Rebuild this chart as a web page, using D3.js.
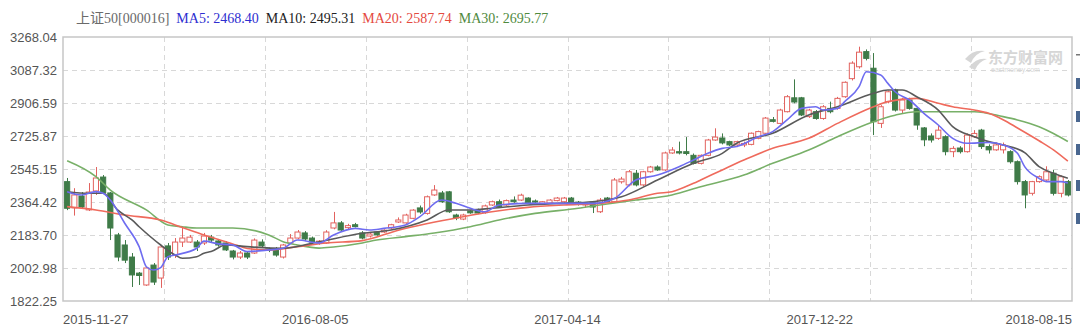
<!DOCTYPE html>
<html>
<head>
<meta charset="utf-8">
<script src="https://cdn.jsdelivr.net/npm/d3@7"></script>
<style>
  body { margin: 0; background: #fff; }
  svg { display: block; }
</style>
</head>
<body>
<div id="kline-chart"></div>
<script>
// weekly candles (index 0 = 2015-11-27)
var opens = [2476,2332,2397,2321,2425,2501,2414,2184,2129,2063,1975,1910,2019,1948,2124,2074,2145,2145,2145,2140,
  2172,2151,2140,2096,2063,2085,2085,2145,2107,2107,2063,2140,2167,2195,2167,2140,2140,2222,2250,2224,
  2240,2195,2178,2200,2200,2222,2255,2250,2275,2332,2302,2403,2414,2420,2293,2271,2315,2320,2306,2348,
  2366,2348,2375,2375,2386,2370,2354,2359,2372,2366,2386,2364,2348,2364,2311,2386,2366,2475,2458,2522,
  2458,2530,2556,2540,2633,2640,2640,2620,2576,2620,2704,2715,2695,2677,2677,2680,2713,2741,2815,2795,
  2859,2935,2935,2832,2859,2822,2877,2877,2941,3040,3105,3188,3097,2795,2914,2978,2868,2923,2877,2770,
  2726,2713,2722,2640,2660,2640,2722,2758,2668,2650,2650,2640,2585,2476,2412,2476,2485,2522,2412,2476];
var highs = [2496,2440,2419,2468,2556,2512,2419,2195,2156,2085,1981,2008,2030,2129,2140,2167,2222,2184,2156,2195,
  2184,2162,2150,2102,2096,2090,2165,2160,2115,2118,2135,2189,2211,2205,2175,2156,2210,2310,2260,2245,
  2250,2205,2195,2205,2215,2245,2280,2300,2325,2345,2400,2457,2425,2425,2300,2300,2320,2328,2350,2372,
  2378,2378,2395,2410,2390,2378,2370,2380,2392,2392,2392,2370,2362,2370,2386,2392,2496,2502,2540,2540,
  2535,2562,2565,2640,2665,2695,2720,2630,2625,2710,2768,2740,2700,2700,2695,2745,2755,2830,2830,2875,
  2950,3036,2940,2875,2868,2895,2914,2940,3025,3135,3215,3200,3180,2895,2975,2985,2935,2935,2880,2775,
  2740,2785,2730,2670,2670,2740,2758,2765,2680,2690,2690,2648,2592,2485,2480,2510,2560,2540,2510,2485];
var lows = [2320,2290,2331,2315,2403,2408,2156,2040,2030,1899,1910,1905,1910,1894,2047,2058,2118,2140,2096,2129,
  2140,2120,2096,2050,2052,2052,2080,2115,2090,2065,2055,2135,2160,2150,2135,2130,2135,2215,2205,2215,
  2225,2160,2170,2180,2195,2215,2250,2245,2270,2300,2295,2398,2360,2305,2265,2265,2300,2298,2300,2343,
  2332,2343,2360,2370,2355,2358,2350,2355,2368,2360,2355,2345,2335,2304,2304,2360,2360,2465,2450,2450,
  2450,2525,2535,2535,2628,2625,2620,2570,2570,2615,2700,2680,2670,2665,2665,2675,2708,2735,2800,2790,
  2855,2905,2835,2825,2815,2815,2850,2870,2935,3030,3095,3140,2731,2770,2905,2860,2852,2870,2760,2670,
  2690,2705,2620,2610,2630,2635,2715,2655,2630,2645,2630,2575,2460,2330,2400,2470,2480,2400,2390,2395];
var closes = [2330,2403,2337,2419,2496,2414,2222,2063,2046,1965,1962,2003,1926,2118,2063,2145,2167,2172,2118,2178,
  2156,2129,2102,2063,2085,2063,2156,2124,2102,2074,2129,2167,2200,2162,2145,2150,2200,2250,2211,2235,
  2230,2167,2189,2184,2210,2240,2266,2293,2320,2310,2393,2430,2366,2311,2277,2293,2305,2304,2343,2366,
  2338,2372,2366,2402,2360,2364,2366,2375,2386,2386,2360,2355,2355,2337,2375,2366,2485,2490,2530,2458,
  2530,2556,2540,2633,2649,2633,2630,2576,2620,2704,2720,2688,2677,2695,2685,2741,2750,2824,2806,2868,
  2941,2912,2841,2868,2822,2886,2859,2932,3020,3125,3185,3151,2804,2886,2968,2868,2923,2877,2786,2705,
  2704,2758,2640,2658,2640,2731,2740,2668,2650,2677,2677,2585,2476,2403,2476,2503,2530,2412,2503,2403];

// moving averages as [candle index, value]
var ma5 = [[0,2421],[2,2403],[4,2421],[5,2412],[6,2375],[8,2248],[10,2120],[11,2010],[12,1992],[13,2005],
  [14,2065],[15,2074],[18,2111],[19,2150],[21,2135],[23,2129],[25,2093],[28,2102],[30,2111],[32,2156],
  [35,2140],[37,2184],[40,2220],[42,2211],[44,2220],[47,2239],[49,2284],[52,2375],[54,2357],[56,2330],
  [58,2311],[60,2348],[64,2357],[68,2357],[73,2357],[76,2384],[79,2485],[82,2512],[85,2558],[87,2594],
  [89,2631],[91,2658],[93,2668],[96,2722],[98,2750],[100,2814],[102,2877],[104,2886],[105,2868],[107,2877],
  [108,2914],[110,2996],[111,3078],[113,3060],[114,3014],[115,2968],[117,2923],[119,2850],[121,2786],[123,2713],
  [125,2686],[128,2690],[130,2677],[132,2631],[133,2558],[135,2494],[136,2476],[138,2476],[139,2468]];
var ma10 = [[0,2421],[3,2412],[5,2412],[7,2321],[9,2266],[10,2229],[13,2129],[15,2074],[16,2056],[18,2065],
  [19,2084],[20,2093],[22,2129],[25,2120],[30,2111],[35,2147],[41,2193],[45,2211],[50,2266],[53,2321],
  [56,2321],[59,2330],[64,2348],[68,2357],[73,2366],[77,2393],[82,2485],[87,2576],[91,2631],[93,2686],
  [98,2741],[103,2841],[107,2886],[112,2960],[114,2978],[116,2978],[118,2941],[121,2868],[123,2777],[126,2722],
  [128,2695],[130,2677],[133,2635],[135,2558],[137,2522],[139,2495]];
var ma20 = [[0,2339],[4,2321],[8,2293],[13,2266],[15,2239],[17,2211],[19,2184],[23,2135],[25,2110],[28,2102],
  [32,2120],[36,2140],[41,2153],[46,2210],[55,2284],[59,2311],[64,2335],[69,2348],[74,2357],[78,2375],
  [82,2412],[84,2421],[87,2467],[88,2485],[91,2540],[94,2594],[98,2659],[103,2713],[107,2795],[112,2886],
  [114,2914],[118,2932],[121,2905],[123,2886],[126,2868],[128,2850],[130,2815],[132,2770],[135,2700],[137,2650],
  [139,2588]];
var ma30 = [[0,2590],[4,2503],[6,2430],[11,2321],[14,2239],[16,2229],[18,2222],[23,2222],[28,2184],[30,2147],
  [32,2129],[35,2112],[37,2118],[41,2140],[43,2156],[47,2175],[51,2195],[56,2229],[60,2266],[65,2302],
  [71,2330],[74,2348],[79,2375],[84,2403],[88,2448],[94,2512],[98,2576],[103,2649],[107,2722],[112,2804],
  [115,2840],[118,2859],[123,2859],[126,2859],[130,2832],[132,2814],[135,2777],[137,2740],[139,2696]];

var maNames = ["MA5", "MA10", "MA20", "MA30"];
var maLast = [2468.40, 2495.31, 2587.74, 2695.77];
var yTicks = [1822.25, 2002.98, 2183.70, 2364.42, 2545.15, 2725.87, 2906.59, 3087.32, 3268.04];
var xTickLabels = ["2015-11-27", "2016-08-05", "2017-04-14", "2017-12-22", "2018-08-15"];
var titleText = "上证50[000016]";

var W = 1080, H = 329;
var margin = {top: 37, right: 8, bottom: 28, left: 63};
var plotW = W - margin.left - margin.right;
var plotH = H - margin.top - margin.bottom;

var maLineColors = ["#6e6cf0", "#5a5a5a", "#ef6a5c", "#78b068"];
var maTextColors = ["#2e2ed0", "#222222", "#e4493e", "#4f8a3e"];
var upColor = "#e2625e", downColor = "#3f7b48";

var svg = d3.select("#kline-chart").append("svg")
  .attr("width", W).attr("height", H);

var g = svg.append("g").attr("transform", "translate(" + margin.left + "," + margin.top + ")");

var x = d3.scaleBand().domain(d3.range(closes.length)).range([0, plotW]).padding(0.15);
var xc = function(i){ return x(i) + x.bandwidth() / 2; };
var y = d3.scaleLinear().domain([yTicks[0], yTicks[yTicks.length - 1]]).range([plotH, 0]);

// grid
g.append("g").selectAll("line").data(yTicks.slice(1, -1)).enter().append("line")
  .attr("x1", 0).attr("x2", plotW)
  .attr("y1", function(d){ return Math.round(y(d)) + 0.5; })
  .attr("y2", function(d){ return Math.round(y(d)) + 0.5; })
  .attr("stroke", "#d8d8d8").attr("stroke-dasharray", "5,4");
var vCols = d3.range(1, 10);
g.append("g").selectAll("line").data(vCols).enter().append("line")
  .attr("x1", function(d){ return Math.round(d * plotW / 10) + 0.5; })
  .attr("x2", function(d){ return Math.round(d * plotW / 10) + 0.5; })
  .attr("y1", 0).attr("y2", plotH)
  .attr("stroke", "#d8d8d8").attr("stroke-dasharray", "5,4");

// watermark
var wm = g.append("g").attr("fill", "#d6d6d6");
wm.append("text").attr("x", 925).attr("y", 26)
  .style("font-family", "'Noto Sans CJK SC', sans-serif").style("font-size", "15px")
  .style("font-weight", "bold").text("东方财富网");
wm.append("text").attr("x", 928).attr("y", 35)
  .style("font-family", "'Liberation Sans', sans-serif").style("font-size", "7px")
  .text("eastmoney.com");
wm.append("path").attr("d", "M902,22 q8,-10 20,-8 q-10,2 -14,12 z M906,30 q8,-10 18,-8 q-9,3 -12,11 z");

// candles
var candles = g.append("g").selectAll("g").data(closes).enter().append("g");
candles.append("line")
  .attr("x1", function(d, i){ return Math.round(xc(i)) + 0.5; })
  .attr("x2", function(d, i){ return Math.round(xc(i)) + 0.5; })
  .attr("y1", function(d, i){ return y(highs[i]); })
  .attr("y2", function(d, i){ return y(lows[i]); })
  .attr("stroke", function(d, i){ return d >= opens[i] ? upColor : downColor; })
  .attr("stroke-width", 1);
candles.append("rect")
  .attr("x", function(d, i){ return x(i) + 0.5; })
  .attr("width", x.bandwidth() - 1)
  .attr("y", function(d, i){ return y(Math.max(d, opens[i])); })
  .attr("height", function(d, i){ return Math.max(1, Math.abs(y(d) - y(opens[i]))); })
  .attr("fill", function(d, i){ return d >= opens[i] ? "#fff" : downColor; })
  .attr("stroke", function(d, i){ return d >= opens[i] ? upColor : downColor; })
  .attr("stroke-width", 1);

// moving average lines
var line = d3.line()
  .x(function(d){ return xc(d[0]); })
  .y(function(d){ return y(d[1]); })
  .curve(d3.curveMonotoneX);
[ma30, ma20, ma10, ma5].forEach(function(s, k){
  g.append("path").datum(s)
    .attr("d", line)
    .attr("fill", "none")
    .attr("stroke", maLineColors[3 - k])
    .attr("stroke-width", 1.6);
});

// frame
g.append("rect").attr("x", 0).attr("y", 0).attr("width", plotW).attr("height", plotH)
  .attr("fill", "none").attr("stroke", "#c6c6c6").attr("stroke-width", 1.5);

// y axis
var yAxis = g.append("g").call(d3.axisLeft(y).tickValues(yTicks).tickSize(0).tickPadding(6)
  .tickFormat(d3.format(".2f")));
yAxis.select(".domain").remove();
yAxis.selectAll("text").attr("fill", "#555")
  .style("font-family", "'Liberation Sans', Arial, sans-serif").style("font-size", "13px");

// x labels
var xl = d3.scaleLinear().domain([0, xTickLabels.length - 1]).range([0, plotW]);
g.append("g").selectAll("text").data(xTickLabels).enter().append("text")
  .attr("x", function(d, i){ return xl(i); })
  .attr("y", plotH + 23)
  .attr("text-anchor", function(d, i){ return i === 0 ? "start" : (i === xTickLabels.length - 1 ? "end" : "middle"); })
  .attr("fill", "#555")
  .style("font-family", "'Liberation Sans', Arial, sans-serif").style("font-size", "13px")
  .text(function(d){ return d; });

// header legend
var hx = 76;
var title = svg.append("text").attr("x", hx).attr("y", 23).attr("fill", "#6a6a6a")
  .style("font-family", "'Liberation Serif', 'Noto Sans CJK SC', serif").style("font-size", "14px")
  .text(titleText);
hx += title.node().getComputedTextLength() + 7;
maNames.forEach(function(n, k){
  var t = svg.append("text").attr("x", hx).attr("y", 23).attr("fill", maTextColors[k])
    .style("font-family", "'Liberation Serif', serif").style("font-size", "14px")
    .text(n + ": " + maLast[k].toFixed(2));
  hx += t.node().getComputedTextLength() + 7;
});

// cut-off markers at the right edge
var edgeMarks = [78, 111, 144, 180, 213];
svg.append("g").selectAll("rect").data(edgeMarks).enter().append("rect")
  .attr("x", 1076).attr("y", function(d){ return d; })
  .attr("width", 4).attr("height", 11).attr("fill", "#4a6790");
svg.append("rect").attr("x", 1076).attr("y", 54).attr("width", 4).attr("height", 1.5).attr("fill", "#777");
</script>
</body>
</html>
